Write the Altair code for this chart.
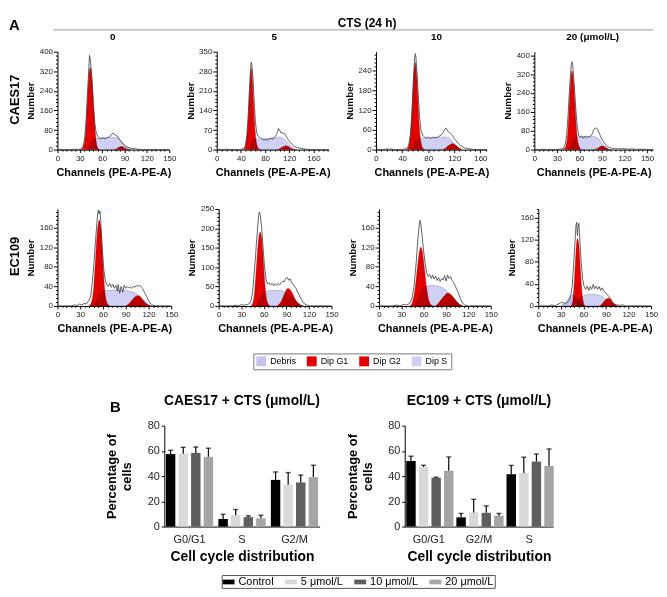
import altair as alt
import pandas as pd

FONT = "Liberation Sans"
RED = "#e30000"
LAVENDER = "#c3c3ee"
LAV_S = "#d0d0f4"

# ---------------- Panel A: DNA histograms, (channel, number) ----------------
CAES17_0_TOTAL = [(0,0),(20,0),(24,2),(28,0),(31,3),(34,12),(36,35),(38,100),(40,210),(42,330),(43,385),(44,370),(46,300),(48,190),(50,110),(52,68),(55,50),(58,44),(61,48),(64,44),(67,49),(70,52),(72,60),(74,66),(76,64),(78,60),(80,56),(82,47),(85,34),(88,23),(92,13),(96,8),(100,5),(105,3),(110,1),(115,0),(150,0)]
CAES17_0_G1 = [(31,0),(34,8),(37,45),(39,130),(41,250),(43,325),(44,335),(45,325),(47,260),(49,150),(51,60),(53,15),(56,0)]
CAES17_0_G2 = [(76,0),(80,5),(84,12),(86,13),(89,10),(92,4),(96,0)]
CAES17_0_S = [(40,0),(44,20),(48,38),(52,46),(60,48),(70,50),(78,50),(84,40),(88,25),(92,10),(96,3),(100,0)]

CAES17_5_TOTAL = [(0,0),(12,0),(16,2),(20,0),(28,1),(35,0),(41,2),(44,4),(47,12),(50,50),(52,120),(54,210),(56,290),(57,312),(58,305),(60,255),(62,170),(64,100),(66,62),(68,50),(71,43),(74,40),(78,34),(81,37),(84,33),(87,38),(90,40),(93,38),(96,44),(99,55),(101,66),(102,76),(104,70),(106,60),(108,62),(110,56),(112,58),(114,50),(117,40),(120,30),(124,20),(128,12),(133,7),(138,5),(144,3),(150,1),(156,0),(185,0)]
CAES17_5_G1 = [(44,0),(47,10),(50,50),(53,150),(55,240),(57,290),(59,250),(61,160),(63,80),(66,22),(69,4),(72,0)]
CAES17_5_G2 = [(100,0),(105,4),(110,10),(114,14),(118,12),(122,6),(127,1),(130,0)]
CAES17_5_S = [(52,0),(56,18),(60,32),(66,38),(75,38),(85,40),(95,42),(104,44),(110,40),(116,30),(121,16),(126,6),(132,0)]

CAES17_10_TOTAL = [(0,0),(12,0),(16,2),(20,1),(24,2),(28,0),(40,0),(44,2),(47,4),(50,12),(53,48),(55,110),(57,200),(59,270),(60,292),(61,285),(63,230),(65,160),(67,95),(69,58),(72,42),(76,36),(80,38),(84,34),(88,38),(92,36),(96,40),(100,44),(103,52),(105,60),(107,66),(109,60),(111,54),(114,50),(117,44),(120,34),(124,24),(128,15),(132,9),(136,5),(142,3),(148,1),(155,0),(170,0)]
CAES17_10_G1 = [(47,0),(50,10),(53,50),(56,150),(58,230),(60,265),(62,235),(64,160),(66,80),(69,22),(72,4),(75,0)]
CAES17_10_G2 = [(102,0),(107,5),(112,13),(117,18),(122,14),(127,6),(132,0)]
CAES17_10_S = [(54,0),(58,15),(62,28),(68,34),(80,35),(92,36),(102,38),(108,38),(114,32),(119,20),(124,8),(130,0)]

CAES17_20_TOTAL = [(0,0),(8,0),(12,2),(16,0),(22,1),(28,0),(34,2),(38,4),(41,20),(43,60),(45,150),(47,270),(49,355),(50,372),(51,360),(53,280),(55,180),(57,100),(59,62),(61,52),(63,58),(65,48),(67,57),(69,50),(71,56),(73,52),(75,58),(77,66),(79,84),(81,92),(83,90),(85,80),(87,65),(89,50),(91,38),(94,24),(97,14),(100,9),(104,5),(108,4),(112,3),(118,4),(124,2),(130,3),(136,1),(142,2),(148,1),(152,0),(158,0)]
CAES17_20_G1 = [(38,0),(41,8),(44,50),(46,150),(48,270),(50,333),(52,290),(54,190),(56,90),(58,30),(61,5),(63,0)]
CAES17_20_G2 = [(80,0),(84,5),(87,11),(90,15),(93,13),(96,7),(99,2),(102,0)]
CAES17_20_S = [(45,0),(49,20),(53,42),(58,54),(68,56),(78,56),(84,50),(88,36),(92,18),(96,6),(100,0)]

EC109_0_TOTAL = [(0,0),(18,0),(22,2),(26,1),(29,4),(32,2),(35,5),(38,4),(40,8),(42,12),(44,22),(46,50),(48,85),(50,130),(52,170),(53,188),(54,196),(55,188),(56,194),(57,175),(59,120),(61,75),(63,52),(65,44),(67,40),(69,46),(71,38),(73,44),(75,36),(77,42),(79,30),(80,44),(82,26),(84,40),(86,28),(88,42),(90,36),(92,40),(94,37),(96,39),(98,36),(100,40),(102,38),(104,42),(106,40),(108,42),(110,40),(112,36),(114,30),(116,24),(118,18),(120,11),(122,6),(125,2),(130,0),(150,0)]
EC109_0_G1 = [(42,0),(45,8),(48,40),(50,90),(52,140),(54,170),(55,175),(57,160),(59,112),(61,58),(63,22),(66,4),(69,0)]
EC109_0_G2 = [(90,0),(94,4),(98,11),(102,18),(106,21),(109,19),(112,13),(116,6),(120,2),(124,0)]
EC109_0_S = [(48,0),(52,12),(56,24),(60,30),(70,32),(85,32),(95,30),(102,27),(108,20),(114,12),(118,5),(122,0)]

EC109_5_TOTAL = [(0,0),(18,0),(22,2),(26,0),(30,3),(34,2),(38,4),(41,6),(43,14),(45,35),(47,80),(49,130),(51,185),(53,232),(54,242),(55,236),(57,205),(59,150),(61,98),(63,68),(65,56),(67,60),(69,54),(71,58),(73,52),(75,57),(77,53),(79,58),(81,54),(83,60),(85,64),(87,62),(89,70),(91,74),(93,66),(95,70),(97,60),(99,56),(101,50),(103,44),(105,36),(107,28),(109,20),(111,13),(113,7),(116,3),(120,0),(150,0)]
EC109_5_G1 = [(43,0),(46,12),(48,40),(50,95),(52,150),(54,185),(55,190),(57,175),(59,125),(61,65),(63,24),(66,4),(68,0)]
EC109_5_G2 = [(78,0),(82,8),(86,24),(89,38),(92,45),(95,42),(98,32),(102,16),(106,6),(110,1),(113,0)]
EC109_5_S = [(50,0),(54,14),(58,28),(62,36),(70,40),(80,40),(88,36),(94,28),(100,18),(106,8),(111,0)]

EC109_10_TOTAL = [(0,0),(18,0),(24,2),(28,0),(33,3),(37,2),(41,5),(44,14),(47,40),(50,90),(52,135),(54,165),(55,175),(56,170),(58,140),(60,110),(62,85),(64,68),(66,60),(68,64),(70,56),(72,63),(74,55),(76,61),(78,52),(80,58),(82,50),(84,56),(86,53),(88,62),(90,51),(92,63),(94,56),(96,60),(98,52),(100,48),(102,42),(104,35),(106,28),(108,20),(110,12),(112,6),(115,2),(120,0),(150,0)]
EC109_10_G1 = [(42,0),(45,8),(48,30),(51,70),(54,108),(56,120),(58,112),(61,75),(64,35),(67,10),(70,2),(72,0)]
EC109_10_G2 = [(76,0),(80,6),(84,14),(88,21),(92,26),(96,24),(100,17),(104,9),(108,3),(112,0)]
EC109_10_S = [(48,0),(53,15),(58,32),(64,40),(72,42),(80,40),(88,34),(95,24),(102,12),(108,4),(112,0)]

EC109_20_TOTAL = [(0,0),(14,0),(18,2),(22,0),(26,3),(29,5),(31,7),(33,6),(35,4),(38,6),(41,10),(43,18),(45,35),(47,75),(49,120),(50,145),(51,152),(52,128),(53,145),(54,150),(55,125),(57,80),(59,48),(61,35),(63,30),(65,36),(67,28),(69,35),(71,30),(73,39),(75,31),(77,36),(79,30),(81,35),(83,28),(85,33),(87,27),(89,25),(91,21),(93,19),(95,15),(97,9),(100,4),(104,2),(108,1),(112,2),(116,0),(150,0)]
EC109_20_G1 = [(44,0),(46,10),(48,45),(50,95),(52,122),(54,110),(56,65),(58,25),(60,6),(62,0)]
EC109_20_G2 = [(82,0),(85,4),(88,9),(91,13),(94,14),(97,11),(100,5),(103,1),(106,0)]
EC109_20_S = [(50,0),(54,8),(58,16),(63,20),(72,21),(82,19),(88,14),(94,8),(100,3),(104,0)]
EC109_20_DEBRIS = [(30,0),(34,4),(38,9),(42,16),(46,20),(50,16),(54,8),(58,2),(62,0)]

COLUMN_LABELS = ["0", "5", "10", "20 (\u03bcmol/L)"]
ROW_LABELS = ["CAES17", "EC109"]
FILL_DOMAIN = ["Debris", "Dip G1", "Dip G2", "Dip S"]

# ---------------- Panel B: cell-cycle distribution (%) ----------------
TREATS = ["Control", "5 \u03bcmol/L", "10 \u03bcmol/L", "20 \u03bcmol/L"]
BAR_COLORS = ["#000000", "#d9d9d9", "#5e5e5e", "#a5a5a5"]

CAES17_PHASES = ["G0/G1", "S", "G2/M"]
CAES17_CONTROL = [57.5, 6.0, 37.0]
CAES17_CONTROL_ERR = [3.0, 3.7, 6.3]
CAES17_5 = [57.8, 9.0, 33.2]
CAES17_5_ERR = [5.0, 4.5, 9.6]
CAES17_10 = [58.4, 7.5, 35.0]
CAES17_10_ERR = [4.7, 1.0, 5.8]
CAES17_20 = [55.3, 6.5, 39.2]
CAES17_20_ERR = [6.8, 2.5, 9.4]

EC109_PHASES = ["G0/G1", "G2/M", "S"]
EC109_CONTROL = [51.9, 7.3, 41.5]
EC109_CONTROL_ERR = [3.9, 3.1, 7.0]
EC109_5 = [47.3, 11.2, 42.5]
EC109_5_ERR = [1.3, 10.4, 12.5]
EC109_10 = [38.7, 10.9, 51.5]
EC109_10_ERR = [0.4, 5.5, 6.0]
EC109_20 = [44.2, 8.6, 48.0]
EC109_20_ERR = [11.0, 1.8, 13.5]

# ---------------- helpers ----------------
FILL_SCALE = alt.Scale(domain=FILL_DOMAIN, range=[LAVENDER, RED, RED, LAV_S])
FILL_LEGEND = alt.Legend(
    title=None, orient="none", legendX=247, legendY=345, direction="horizontal",
    columns=4, symbolType="square", symbolSize=100, symbolStrokeWidth=0,
    symbolOpacity=1, labelFontSize=9, labelFont=FONT, labelOffset=4,
    columnPadding=10, padding=3, strokeColor="#777777", fillColor="white",
    labelColor="#000000",
)
BAR_LEGEND = alt.Legend(
    title=None, orient="none", legendX=215, legendY=569, direction="horizontal",
    columns=4, symbolType="M-1,-0.4H1V0.4H-1Z", symbolSize=144, symbolStrokeWidth=0,
    symbolOpacity=1, labelFontSize=11, labelFont=FONT, labelOffset=4,
    columnPadding=11, padding=1, strokeColor="#555555", fillColor="white",
    labelColor="#000000",
)


def to_df(pairs, comp):
    return pd.DataFrame({"ch": [p[0] for p in pairs],
                         "n": [p[1] for p in pairs],
                         "comp": [comp] * len(pairs)})


def hist_panel(total, g1, g2, s, debris, xmax, xmajor, ymax, ymajor, width, height):
    xminor = xmajor // 5
    yminor = ymajor // 5
    xvals = [i * xminor for i in range(int(xmax // xminor) + 1)]
    yvals = [i * yminor for i in range(int(ymax // yminor) + 1)]
    xaxis = alt.Axis(
        values=xvals,
        labelExpr=f"datum.value % {xmajor} === 0 ? datum.label : ''",
        tickSize={"condition": {"test": f"datum.value % {xmajor} === 0", "value": 3}, "value": 1.5},
        title="Channels (PE-A-PE-A)", titleFontSize=11, titleFontWeight="bold",
        titlePadding=4, labelFontSize=8, labelPadding=2, minExtent=13, maxExtent=13,
        grid=False, domainColor="#000000", tickColor="#000000", labelColor="#222222",
        titleColor="#000000", labelOverlap=False, labelFlush=False,
    )
    yaxis = alt.Axis(
        values=yvals,
        labelExpr=f"datum.value % {ymajor} === 0 ? datum.label : ''",
        tickSize={"condition": {"test": f"datum.value % {ymajor} === 0", "value": 4}, "value": 2},
        title="Number", titleFontSize=10, titleFontWeight="bold", titlePadding=2,
        labelFontSize=8, labelPadding=1, minExtent=20, maxExtent=20, grid=False,
        domainColor="#000000", tickColor="#000000", labelColor="#222222",
        titleColor="#000000", labelOverlap=False,
    )
    x = alt.X("ch:Q", scale=alt.Scale(domain=[0, xmax], nice=False), axis=xaxis)
    y = alt.Y("n:Q", stack=None, scale=alt.Scale(domain=[0, ymax], nice=False), axis=yaxis)
    fill = alt.Fill("comp:N", scale=FILL_SCALE, legend=FILL_LEGEND)
    layers = []
    for pairs, comp in [(g1, "Dip G1"), (g2, "Dip G2")]:
        layers.append(
            alt.Chart(to_df(pairs, comp))
            .mark_area(interpolate="monotone", opacity=1, stroke="#a00000", strokeWidth=0.4)
            .encode(x=x, y=y, fill=fill)
        )
    lav = [(s, "Dip S")]
    if debris:
        lav.append((debris, "Debris"))
    for pairs, comp in lav:
        layers.append(
            alt.Chart(to_df(pairs, comp))
            .mark_area(interpolate="monotone", opacity=1, blend="multiply",
                       stroke="#8a8ac4", strokeWidth=0.5)
            .encode(x=x, y=y, fill=fill)
        )
    layers.append(
        alt.Chart(to_df(total, "total"))
        .mark_line(color="#3a3a3a", strokeWidth=0.8)
        .encode(x=x, y=y)
    )
    return alt.layer(*layers).properties(width=width, height=height)


ONE = pd.DataFrame({"a": [0]})


def spacer(w, h):
    return alt.Chart(ONE).mark_point(opacity=0, size=1).encode(
        x=alt.value(1), y=alt.value(1)).properties(width=w, height=h)


def row_label(text, h):
    return alt.Chart(ONE).mark_text(
        text=text, angle=270, fontSize=13, fontWeight="bold", align="center",
        baseline="middle", font=FONT, color="#000000",
    ).encode(x=alt.value(6), y=alt.value(h / 2 - 1)).properties(width=1, height=h)


def text_at(text, x, y, size, align="center"):
    return alt.Chart(ONE).mark_text(
        text=text, fontSize=size, fontWeight="bold", align=align,
        baseline="alphabetic", font=FONT, color="#000000",
    ).encode(x=alt.value(x), y=alt.value(y))


def bar_df(phases, series, errs):
    rows = []
    for t, vals, es in zip(TREATS, series, errs):
        for ph, v, e in zip(phases, vals, es):
            rows.append({"phase": ph, "treat": t, "value": v, "top": v + e})
    return pd.DataFrame(rows)


def bar_panel(phases, series, errs, title, width, height):
    df = bar_df(phases, series, errs)
    yaxis = alt.Axis(
        values=[0, 20, 40, 60, 80], title=["Percentage of", "cells"], titleFontSize=13,
        titleFontWeight="bold", titlePadding=13, titleLineHeight=15, labelFontSize=11,
        tickSize=3, labelPadding=2, minExtent=18, maxExtent=18, grid=False,
        domainColor="#000000", tickColor="#000000", labelColor="#222222", titleColor="#000000",
    )
    xaxis = alt.Axis(
        title="Cell cycle distribution", titleFontSize=14, titleFontWeight="bold",
        labelAngle=0, ticks=False, labelPadding=7, labelFontSize=11, minExtent=18,
        maxExtent=18, titlePadding=5, domainColor="#000000", labelColor="#222222",
        titleColor="#000000",
    )
    x = alt.X("phase:N", sort=phases, scale=alt.Scale(paddingInner=0.1, paddingOuter=0.03), axis=xaxis)
    xo = alt.XOffset("treat:N", sort=TREATS, scale=alt.Scale(paddingInner=0.25))
    yscale = alt.Scale(domain=[0, 80], nice=False)
    base = alt.Chart(df)
    bars = base.mark_bar().encode(
        x=x, xOffset=xo, y=alt.Y("value:Q", scale=yscale, axis=yaxis),
        color=alt.Color("treat:N", sort=TREATS, scale=alt.Scale(domain=TREATS, range=BAR_COLORS),
                        legend=BAR_LEGEND),
    )
    errs_l = base.mark_rule(color="#000000", strokeWidth=1.2).encode(
        x=x, xOffset=xo, y=alt.Y("value:Q", scale=yscale, axis=yaxis), y2="top:Q")
    caps = base.mark_tick(color="#000000", thickness=1.4, size=5).encode(
        x=x, xOffset=xo, y=alt.Y("top:Q", scale=yscale, axis=yaxis))
    return alt.layer(bars, errs_l, caps).properties(
        width=width, height=height,
        title=alt.TitleParams(text=title, fontSize=14, fontWeight="bold", anchor="middle",
                              offset=12, font=FONT, color="#000000"),
    )


# ---------------- header (panel letter, treatment heading, column labels) ----------------
# text bounds reach about 1.2 font sizes above the baseline; keep them inside the view
header = alt.layer(
    text_at("A", 0, 18, 15, align="left"),
    text_at("CTS (24 h)", 362, 15, 12),
    alt.Chart(ONE).mark_rule(color="#999999", strokeWidth=1)
    .encode(x=alt.value(45), x2=alt.value(651), y=alt.value(18)),
    text_at(COLUMN_LABELS[0], 105, 28, 10),
    text_at(COLUMN_LABELS[1], 268, 28, 10),
    text_at(COLUMN_LABELS[2], 432, 28, 10),
    text_at(COLUMN_LABELS[3], 590, 28, 10),
).properties(width=651, height=40)

H1, H2 = 99, 98
row1 = alt.hconcat(
    row_label(ROW_LABELS[0], H1),
    hist_panel(CAES17_0_TOTAL, CAES17_0_G1, CAES17_0_G2, CAES17_0_S, None, 150, 30, 400, 80, 113, H1),
    hist_panel(CAES17_5_TOTAL, CAES17_5_G1, CAES17_5_G2, CAES17_5_S, None, 185, 40, 350, 70, 113, H1),
    hist_panel(CAES17_10_TOTAL, CAES17_10_G1, CAES17_10_G2, CAES17_10_S, None, 170, 40, 298, 60, 112, H1),
    hist_panel(CAES17_20_TOTAL, CAES17_20_G1, CAES17_20_G2, CAES17_20_S, None, 158, 30, 415, 80, 120, H1),
    spacing=48, bounds="flush",
)
row2 = alt.hconcat(
    row_label(ROW_LABELS[1], H2),
    hist_panel(EC109_0_TOTAL, EC109_0_G1, EC109_0_G2, EC109_0_S, None, 150, 30, 198, 40, 115, H2),
    hist_panel(EC109_5_TOTAL, EC109_5_G1, EC109_5_G2, EC109_5_S, None, 150, 30, 250, 50, 114, H2),
    hist_panel(EC109_10_TOTAL, EC109_10_G1, EC109_10_G2, EC109_10_S, None, 150, 30, 198, 40, 113, H2),
    hist_panel(EC109_20_TOTAL, EC109_20_G1, EC109_20_G2, EC109_20_S, EC109_20_DEBRIS, 150, 30, 176, 40, 114, H2),
    spacing=48, bounds="flush",
)

HB = 102
b_label = alt.layer(text_at("B", 102, -14, 15, align="left")).properties(width=157, height=HB)

partB = alt.hconcat(
    b_label,
    bar_panel(CAES17_PHASES,
              [CAES17_CONTROL, CAES17_5, CAES17_10, CAES17_20],
              [CAES17_CONTROL_ERR, CAES17_5_ERR, CAES17_10_ERR, CAES17_20_ERR],
              "CAES17 + CTS (\u03bcmol/L)", 157, HB),
    spacer(86, HB),
    bar_panel(EC109_PHASES,
              [EC109_CONTROL, EC109_5, EC109_10, EC109_20],
              [EC109_CONTROL_ERR, EC109_5_ERR, EC109_10_ERR, EC109_20_ERR],
              "EC109 + CTS (\u03bcmol/L)", 150, HB),
    spacing=0, bounds="flush",
)

# nested concat groups count as zero height in a flush layout, so the spacers
# carry the row heights plus the gaps
chart = alt.vconcat(
    header, row1, spacer(1, H1 + 60), row2, spacer(1, H2 + 121), partB,
    spacing=0, bounds="flush",
).properties(
    padding={"left": 0, "top": 0, "right": 0, "bottom": 0}
).configure(font=FONT, background="white").configure_view(stroke="transparent")

chart.save("out.html", embed_options={"renderer": "svg", "actions": False})
